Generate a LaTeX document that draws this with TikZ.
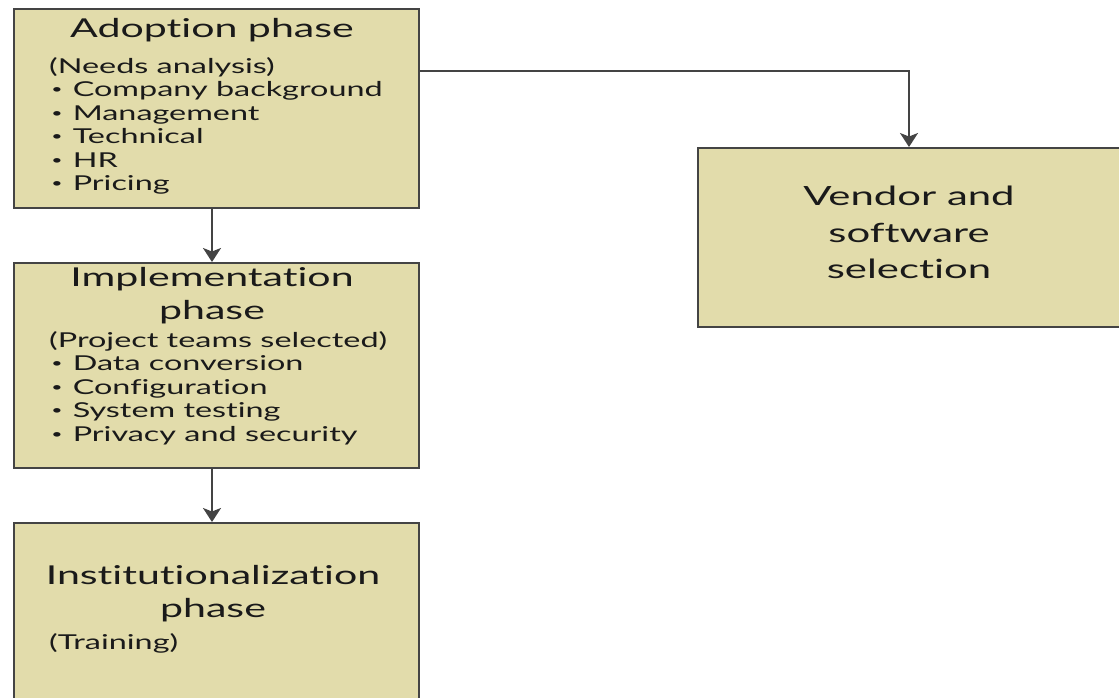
\documentclass[tikz,border=0pt]{standalone}
\usepackage{fontspec}
\setmainfont{Lato}[FakeStretch=1.58, Ligatures=NoCommon]
\usetikzlibrary{arrows.meta}
\definecolor{boxfill}{HTML}{E2DCAB}
\definecolor{boxline}{HTML}{444444}
\definecolor{ink}{HTML}{1A1A1A}
\tikzset{
  phasebox/.style={draw=boxline, line width=2.2pt, fill=boxfill, rectangle, inner sep=0pt},
  titletext/.style={anchor=base, font=\fontsize{26}{30}\selectfont, text=ink, inner sep=0pt},
  bodytext/.style={anchor=base west, font=\fontsize{20.5}{23.5}\selectfont, text=ink, inner sep=0pt},
  bigtext/.style={anchor=base, font=\fontsize{26.5}{34}\selectfont, text=ink, inner sep=0pt},
  flow/.style={draw=boxline, line width=2pt, -{Stealth[length=14pt,width=18pt,inset=3.5pt]}}
}
% small list dot, sitting at mid x-height
\newcommand{\bul}{\hspace{0.1em}\raisebox{0.28ex}{\scalebox{0.6}{\textbullet}}\hspace{0.5em}}
\begin{document}
\begin{tikzpicture}[x=1pt,y=-1pt]
  \useasboundingbox (0,0) rectangle (1119,697);
  \begin{scope}
    \clip (0,0) rectangle (1119,697);
    % phase boxes
    \node[phasebox, minimum width=405pt, minimum height=199pt, anchor=north west] (adopt) at (13,8) {};
    \node[phasebox, minimum width=405pt, minimum height=205pt, anchor=north west] (impl) at (13,262) {};
    \node[phasebox, minimum width=405pt, minimum height=200pt, anchor=north west] (inst) at (13,522) {};
    \node[phasebox, minimum width=430pt, minimum height=179pt, anchor=north west] (vendor) at (697,147) {};
  \end{scope}

  % adoption phase text
  \node[titletext] (t1) at (212,37) {Adoption phase};
  \node[bodytext] (a0) at (49,73) {(Needs analysis)};
  \node[bodytext] (a1) at (49,96.5) {\bul Company background};
  \node[bodytext] (a2) at (49,120) {\bul Management};
  \node[bodytext] (a3) at (49,143.5) {\bul Technical};
  \node[bodytext] (a4) at (49,167) {\bul HR};
  \node[bodytext] (a5) at (49,190.5) {\bul Pricing};

  % implementation phase text
  \node[titletext] (t2) at (212,286) {Implementation};
  \node[titletext] (t2b) at (212,319) {phase};
  \node[bodytext] (b0) at (49,347) {(Project teams selected)};
  \node[bodytext] (b1) at (49,370.5) {\bul Data conversion};
  \node[bodytext] (b2) at (49,394) {\bul Configuration};
  \node[bodytext] (b3) at (49,417.5) {\bul System testing};
  \node[bodytext] (b4) at (49,441) {\bul Privacy and security};

  % institutionalization phase text
  \node[titletext] (t3) at (213,584) {Institutionalization};
  \node[titletext] (t3b) at (213,617) {phase};
  \node[bodytext] (c0) at (49,649) {(Training)};

  % vendor text
  \node[bigtext] (v1) at (909,205) {Vendor and};
  \node[bigtext] (v2) at (909,242) {software};
  \node[bigtext] (v3) at (909,278) {selection};

  % connectors
  \coordinate (turn) at (909,71);
  \draw[flow] (adopt.south -| 212,0) -- (impl.north -| 212,0);
  \draw[flow] (impl.south -| 212,0) -- (inst.north -| 212,0);
  \draw[flow] (adopt.east |- turn) -- (turn) -- (vendor.north -| turn);
\end{tikzpicture}
\end{document}
